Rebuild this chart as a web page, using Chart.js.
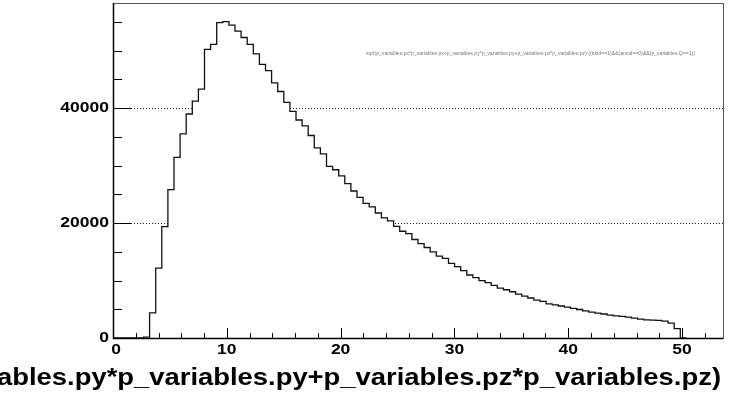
<!DOCTYPE html>
<html>
<head>
<meta charset="utf-8">
<script src="https://cdn.jsdelivr.net/npm/chart.js@4/dist/chart.umd.min.js"></script>
<style>
  html, body { margin:0; padding:0; background:#fff; overflow:hidden; }
  canvas { display:block; }
</style>
</head>
<body>
<canvas id="hist" width="734" height="395"></canvas>
<script>
// histogram contents, bin i covers [i*binWidth, (i+1)*binWidth)
const binWidth = 0.536;
const counts = [
  0, 0, 0, 0, 0, 150, 4380, 12160, 19380, 25830,
  31430, 35520, 38980, 41230, 43300, 50220, 51090, 54890, 55070, 54440,
  53400, 52300, 51090, 49430, 47630, 46540, 44410, 42900, 41000, 39440,
  37940, 36900, 35240, 33090, 32060, 29880, 29280, 28200, 26850, 25580,
  24480, 23440, 22810, 21750, 20890, 20370, 19440, 18580, 18180, 17140,
  16440, 15750, 15000, 14250, 13850, 12980, 12410, 11710, 10960, 10500,
  9980, 9640, 9150, 8680, 8400, 8050, 7620, 7280, 6960, 6600,
  6380, 5950, 5770, 5570, 5370, 5170, 4960, 4730, 4520, 4320,
  4180, 3980, 3850, 3750, 3640, 3460, 3290, 3170, 3120, 3060,
  2940, 2600, 1620, 0
];
const xTicks = [0, 10, 20, 30, 40, 50];
const xMinorStep = 2;
const yTicks = [0, 20000, 40000];
const yMinorStep = 5000;
const xRange = [0, 53.6];
const yRange = [0, 58300];
const xTitle = "sqrt(p_variables.px*p_variables.px+p_variables.py*p_variables.py+p_variables.pz*p_variables.pz)";
const xTitleShown = "ables.py*p_variables.py+p_variables.pz*p_variables.pz)"; // part that fits in the window
const histTitle = xTitle + " {(trkid==1)&&(ancid==0)&&(p_variables.Q==1)}";

// points at left edge of each bin + closing point
const points = counts.map((v, i) => ({ x: i * binWidth, y: v }));
points.push({ x: counts.length * binWidth, y: counts[counts.length - 1] });

const FONT = "'Liberation Sans', Arial, sans-serif";
const STRETCH = 1.25; // the picture is wider than tall

function stext(ctx, txt, x, y, align, base, sx){
  ctx.save();
  ctx.translate(x, y);
  ctx.scale(sx, 1);
  ctx.textAlign = align;
  ctx.textBaseline = base;
  ctx.fillText(txt, 0, 0);
  ctx.restore();
}

const rootLook = {
  id: "rootLook",
  beforeDatasetsDraw(chart){
    const { ctx, chartArea: a, scales: { y } } = chart;
    ctx.save();
    ctx.strokeStyle = "#222";
    ctx.lineWidth = 1;
    ctx.setLineDash([1, 2]);
    yTicks.forEach(v => {
      if (v === 0) return;
      const py = Math.round(y.getPixelForValue(v)) + 0.5;
      ctx.beginPath(); ctx.moveTo(a.left, py); ctx.lineTo(a.right, py); ctx.stroke();
    });
    ctx.restore();
  },
  afterDraw(chart){
    const { ctx, chartArea: a, scales: { x, y } } = chart;
    ctx.save();
    // frame
    ctx.strokeStyle = "#555";
    ctx.lineWidth = 1;
    ctx.strokeRect(a.left + 0.5, a.top + 0.5, a.right - a.left, a.bottom - a.top);
    ctx.strokeStyle = "#000";
    ctx.lineWidth = 1.5;
    ctx.beginPath();
    ctx.moveTo(a.left + 0.5, a.top); ctx.lineTo(a.left + 0.5, a.bottom + 0.5); ctx.lineTo(a.right, a.bottom + 0.5);
    ctx.stroke();

    // ticks (inside, ROOT style)
    ctx.lineWidth = 1;
    for (let v = yRange[0]; v <= yRange[1]; v += yMinorStep){
      const py = Math.round(y.getPixelForValue(v)) + 0.5;
      const len = yTicks.includes(v) ? 18 : 9;
      ctx.beginPath(); ctx.moveTo(a.left, py); ctx.lineTo(a.left + len, py); ctx.stroke();
    }
    for (let v = xRange[0]; v <= xRange[1]; v += xMinorStep){
      const px = Math.round(x.getPixelForValue(v)) + 0.5;
      const len = xTicks.includes(v) ? 10 : 5;
      ctx.beginPath(); ctx.moveTo(px, a.bottom); ctx.lineTo(px, a.bottom - len); ctx.stroke();
    }

    // tick labels
    ctx.fillStyle = "#000";
    ctx.font = "bold 14px " + FONT;
    yTicks.forEach(v => stext(ctx, String(v), a.left - 4, y.getPixelForValue(v), "right", "middle", STRETCH));
    xTicks.forEach(v => stext(ctx, String(v), x.getPixelForValue(v) + (v === 0 ? 3 : 0), a.bottom + 5, "center", "top", STRETCH));

    // axis title, right aligned, runs off the left edge
    ctx.font = "bold 24px " + FONT;
    const sx = (a.right - 2 + 3) / ctx.measureText(xTitleShown).width;
    stext(ctx, xTitle, a.right - 2, 385, "right", "alphabetic", sx);

    // tiny histogram title
    ctx.fillStyle = "#777";
    ctx.font = "5px " + FONT;
    const tx = 329 / ctx.measureText(histTitle).width;
    stext(ctx, histTitle, 366, 54, "left", "middle", tx);
    ctx.restore();
  }
};

new Chart(document.getElementById("hist"), {
  type: "line",
  data: {
    datasets: [{
      data: points,
      stepped: true,
      borderColor: "#111",
      borderWidth: 1.3,
      backgroundColor: "#fff",
      fill: "origin",
      pointRadius: 0,
      tension: 0
    }]
  },
  options: {
    responsive: false,
    animation: false,
    devicePixelRatio: 1,
    layout: { padding: { left: 113, top: 3, right: 11, bottom: 57 } },
    scales: {
      x: { type: "linear", min: xRange[0], max: xRange[1], display: false },
      y: { type: "linear", min: yRange[0], max: yRange[1], display: false }
    },
    plugins: { legend: { display: false }, tooltip: { enabled: false } }
  },
  plugins: [rootLook]
});
</script>
</body>
</html>
